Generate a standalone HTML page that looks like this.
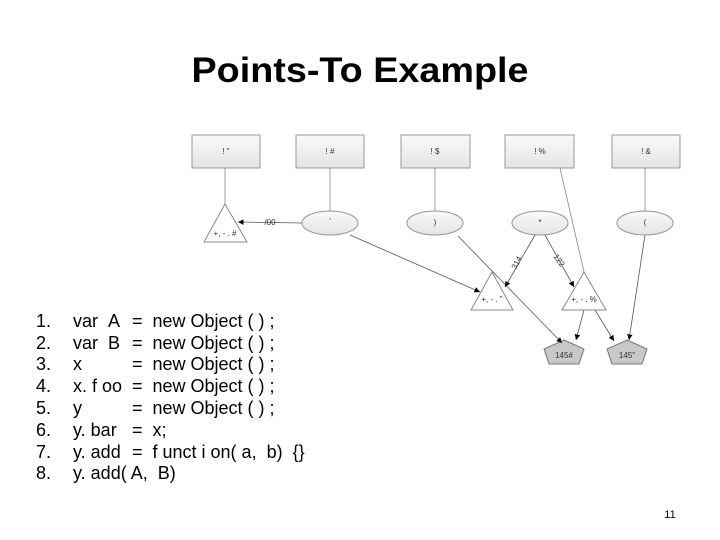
<!DOCTYPE html>
<html><head><meta charset="utf-8"><style>
html,body{margin:0;padding:0;background:#fff;}
svg{display:block;}
</style></head><body>
<svg width="720" height="540" viewBox="0 0 720 540" xmlns="http://www.w3.org/2000/svg" font-family="Liberation Sans, sans-serif">
<defs>
<marker id="a" viewBox="0 0 10 10" refX="10" refY="5" markerWidth="7" markerHeight="7" orient="auto"><path d="M0,0 L10,5 L0,10 z" fill="#000"/></marker>
<linearGradient id="g" x1="0" y1="0" x2="0" y2="1"><stop offset="0" stop-color="#fafafa"/><stop offset="1" stop-color="#e4e4e4"/></linearGradient>
</defs>
<text x="360" y="82" text-anchor="middle" font-size="35" font-weight="bold" textLength="337" lengthAdjust="spacingAndGlyphs">Points-To Example</text>
<g stroke="#999" stroke-width="1" fill="url(#g)">
<rect x="192" y="135" width="68" height="33"/>
<rect x="296" y="135" width="68" height="33"/>
<rect x="401" y="135" width="69" height="33"/>
<rect x="505" y="135" width="69" height="33"/>
<rect x="612" y="135" width="68" height="33"/>
<ellipse cx="330" cy="223" rx="28" ry="12"/>
<ellipse cx="435" cy="223" rx="28" ry="12"/>
<ellipse cx="540" cy="223" rx="28" ry="12"/>
<ellipse cx="645" cy="223" rx="28" ry="12"/>
</g>
<g stroke="#888" fill="#fff">
<polygon points="225,204 247,242 204,242"/>
<polygon points="492,272 513,310 471,310"/>
<polygon points="584,272 606,310 562,310"/>
</g>
<g stroke="#777" fill="#c8c8c8">
<polygon points="564,340 584,349 579,364 549,364 544,349"/>
<polygon points="627,340 647,349 642,364 612,364 607,349"/>
</g>
<g stroke="#888" stroke-width="0.8" fill="none">
<line x1="225" y1="168" x2="225" y2="204"/>
<line x1="330" y1="168" x2="330" y2="211"/>
<line x1="435" y1="168" x2="435" y2="211"/>
<line x1="645" y1="168" x2="645" y2="211"/>
<line x1="560" y1="168" x2="584" y2="272"/>
</g>
<g stroke="#555" stroke-width="0.8" fill="none" marker-end="url(#a)">
<line x1="302" y1="223" x2="238" y2="222"/>
<line x1="350" y1="235" x2="480" y2="292"/>
<line x1="458" y1="236" x2="562" y2="343"/>
<line x1="535" y1="235" x2="505" y2="287"/>
<line x1="545" y1="235" x2="574" y2="287"/>
<line x1="584" y1="310" x2="576" y2="340"/>
<line x1="595" y1="310" x2="614" y2="341"/>
<line x1="645" y1="235" x2="629" y2="340"/>
</g>
<g font-size="8" fill="#333" text-anchor="middle">
<text x="226" y="154">! "</text><text x="330" y="154">! #</text><text x="435" y="154">! $</text><text x="540" y="154">! %</text><text x="646" y="154">! &amp;</text>
<text x="330" y="224">'</text><text x="435" y="225">)</text><text x="540" y="225">*</text><text x="645" y="225">(</text>
<text x="225" y="236">+, - . #</text><text x="492" y="302">+, - . "</text><text x="584" y="302">+, - . %</text>
<text x="564" y="358">145#</text><text x="627" y="358">145"</text>
<text x="270" y="225">/00</text>
<text x="519" y="264" transform="rotate(-62 519 264)">314</text>
<text x="557" y="262" transform="rotate(55 557 262)">122</text>
</g>
<g font-size="18" fill="#000">
<text x="36" y="327">1.</text><text x="73" y="327">var&#160;&#160;A</text><text x="132" y="327">=&#160;&#160;new Object ( ) ;</text>
<text x="36" y="349">2.</text><text x="73" y="349">var&#160;&#160;B</text><text x="132" y="349">=&#160;&#160;new Object ( ) ;</text>
<text x="36" y="370">3.</text><text x="73" y="370">x</text><text x="132" y="370">=&#160;&#160;new Object ( ) ;</text>
<text x="36" y="392">4.</text><text x="73" y="392">x. f oo</text><text x="132" y="392">=&#160;&#160;new Object ( ) ;</text>
<text x="36" y="414">5.</text><text x="73" y="414">y</text><text x="132" y="414">=&#160;&#160;new Object ( ) ;</text>
<text x="36" y="436">6.</text><text x="73" y="436">y. bar</text><text x="132" y="436">=&#160;&#160;x;</text>
<text x="36" y="458">7.</text><text x="73" y="458">y. add</text><text x="132" y="458">=&#160;&#160;f unct i on( a,&#160;&#160;b)&#160;&#160;{}</text>
<text x="36" y="479">8.</text><text x="73" y="479">y. add( A,&#160;&#160;B)</text>
</g>
<text x="670" y="518" font-size="11" text-anchor="middle">11</text>
</svg>
</body></html>
